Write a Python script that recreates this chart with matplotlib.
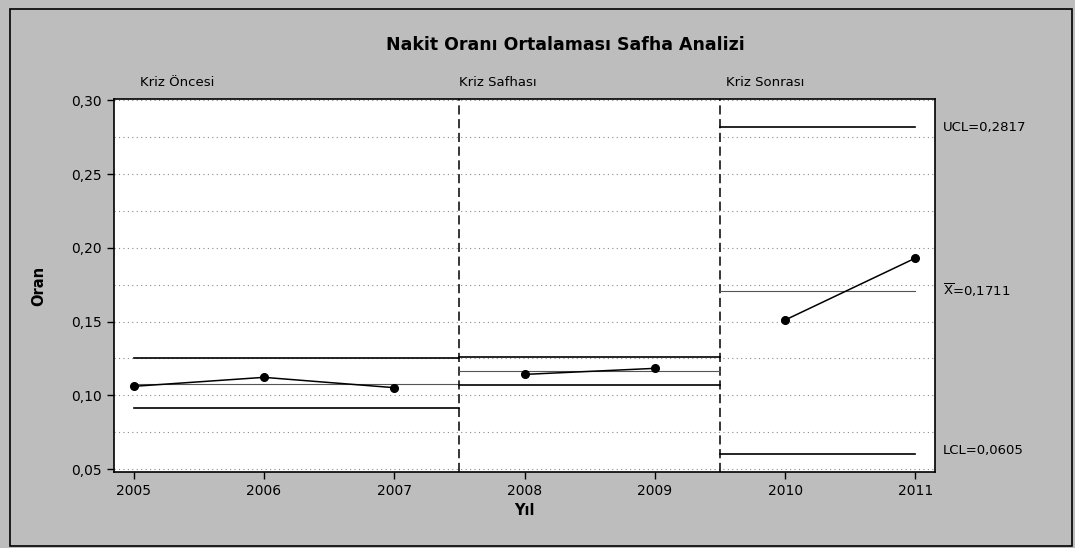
import matplotlib
matplotlib.use("Agg")
import matplotlib.pyplot as plt
from matplotlib.patches import Rectangle
from matplotlib.ticker import FuncFormatter
import matplotlib.transforms as mtrans

# data
years = [2005, 2006, 2007, 2008, 2009, 2010, 2011]
oran = [0.1061, 0.1122, 0.1052, 0.1142, 0.1183, 0.1511, 0.1931]
stage_names = ["Kriz Öncesi", "Kriz Safhası", "Kriz Sonrası"]
stage_start = [2005, 2007.5, 2009.5]
stage_end = [2007.5, 2009.5, 2011]
stage_idx = [[0, 1, 2], [3, 4], [5, 6]]
ucl = [0.1251, 0.1258, 0.2817]
cl = [0.1078, 0.1163, 0.1711]
lcl = [0.0912, 0.1070, 0.0605]
yticks = [0.05, 0.10, 0.15, 0.20, 0.25, 0.30]
grid_y = [0.05, 0.075, 0.10, 0.125, 0.15, 0.175, 0.20, 0.225, 0.25, 0.275, 0.30]

bg = "#bdbdbd"
plt.rcParams['font.family'] = ['DejaVu Sans']

fig = plt.figure(figsize=(10.75, 5.48), dpi=100)
fig.patch.set_facecolor(bg)
W, H = 1075, 548
ax = fig.add_axes([114 / W, 1 - 472 / H, (935 - 114) / W, (472 - 99) / H])
ax.set_facecolor("white")

for g in grid_y:
    ax.axhline(g, color="#8a8a8a", lw=0.8, ls=(0, (1, 3)), zorder=1)

for b in stage_start[1:]:
    ax.axvline(b, color="black", lw=1.1, ls=(0, (6, 3)), zorder=2)

for i in range(3):
    x0, x1 = stage_start[i], stage_end[i]
    ax.plot([x0, x1], [ucl[i], ucl[i]], color="black", lw=1.2, zorder=3)
    ax.plot([x0, x1], [lcl[i], lcl[i]], color="black", lw=1.2, zorder=3)
    ax.plot([x0, x1], [cl[i], cl[i]], color="#555555", lw=0.8, zorder=3)
    xs = [years[j] for j in stage_idx[i]]
    ys = [oran[j] for j in stage_idx[i]]
    ax.plot(xs, ys, color="black", lw=1.1, marker="o", ms=5.5, zorder=4)

ax.set_xlim(2004.85, 2011.15)
ax.set_ylim(0.048, 0.301)
ax.set_xticks(years)
ax.set_yticks(yticks)
ax.yaxis.set_major_formatter(FuncFormatter(lambda v, p: ("%.2f" % v).replace(".", ",")))
ax.tick_params(direction="out", length=5, width=1, labelsize=10, colors="black")
for s in ax.spines.values():
    s.set_linewidth(1.2)

ax.set_xlabel("Yıl", fontsize=10.5, fontweight="bold", labelpad=4)
ax.set_ylabel("Oran", fontsize=10.5, fontweight="bold", labelpad=18)

trans = mtrans.blended_transform_factory(ax.transData, ax.transAxes)
text_x = [2005.05, 2007.5, 2009.55]
for i in range(3):
    ax.text(text_x[i], 1.045, stage_names[i], transform=trans, fontsize=9.5,
            ha="left", va="center")

trans_r = mtrans.blended_transform_factory(ax.transAxes, ax.transData)
ax.text(1.01, ucl[2], "UCL=0,2817", transform=trans_r, fontsize=9.5, va="center", ha="left")
ax.text(1.01, cl[2], r"$\overline{\mathrm{X}}$=0,1711", transform=trans_r, fontsize=9.5,
        va="center", ha="left")
ax.text(1.01, lcl[2] + 0.002, "LCL=0,0605", transform=trans_r, fontsize=9.5, va="center", ha="left")

fig.text(565 / W, 1 - 45 / H, "Nakit Oranı Ortalaması Safha Analizi", fontsize=12.5,
         fontweight="bold", ha="center", va="center")

fig.patches.append(Rectangle((10 / W, 1 - 546 / H), (1072 - 10) / W, (546 - 9) / H,
                             transform=fig.transFigure, fill=False, ec="black", lw=1.2))

fig.savefig("out.png", dpi=100, facecolor=bg)
